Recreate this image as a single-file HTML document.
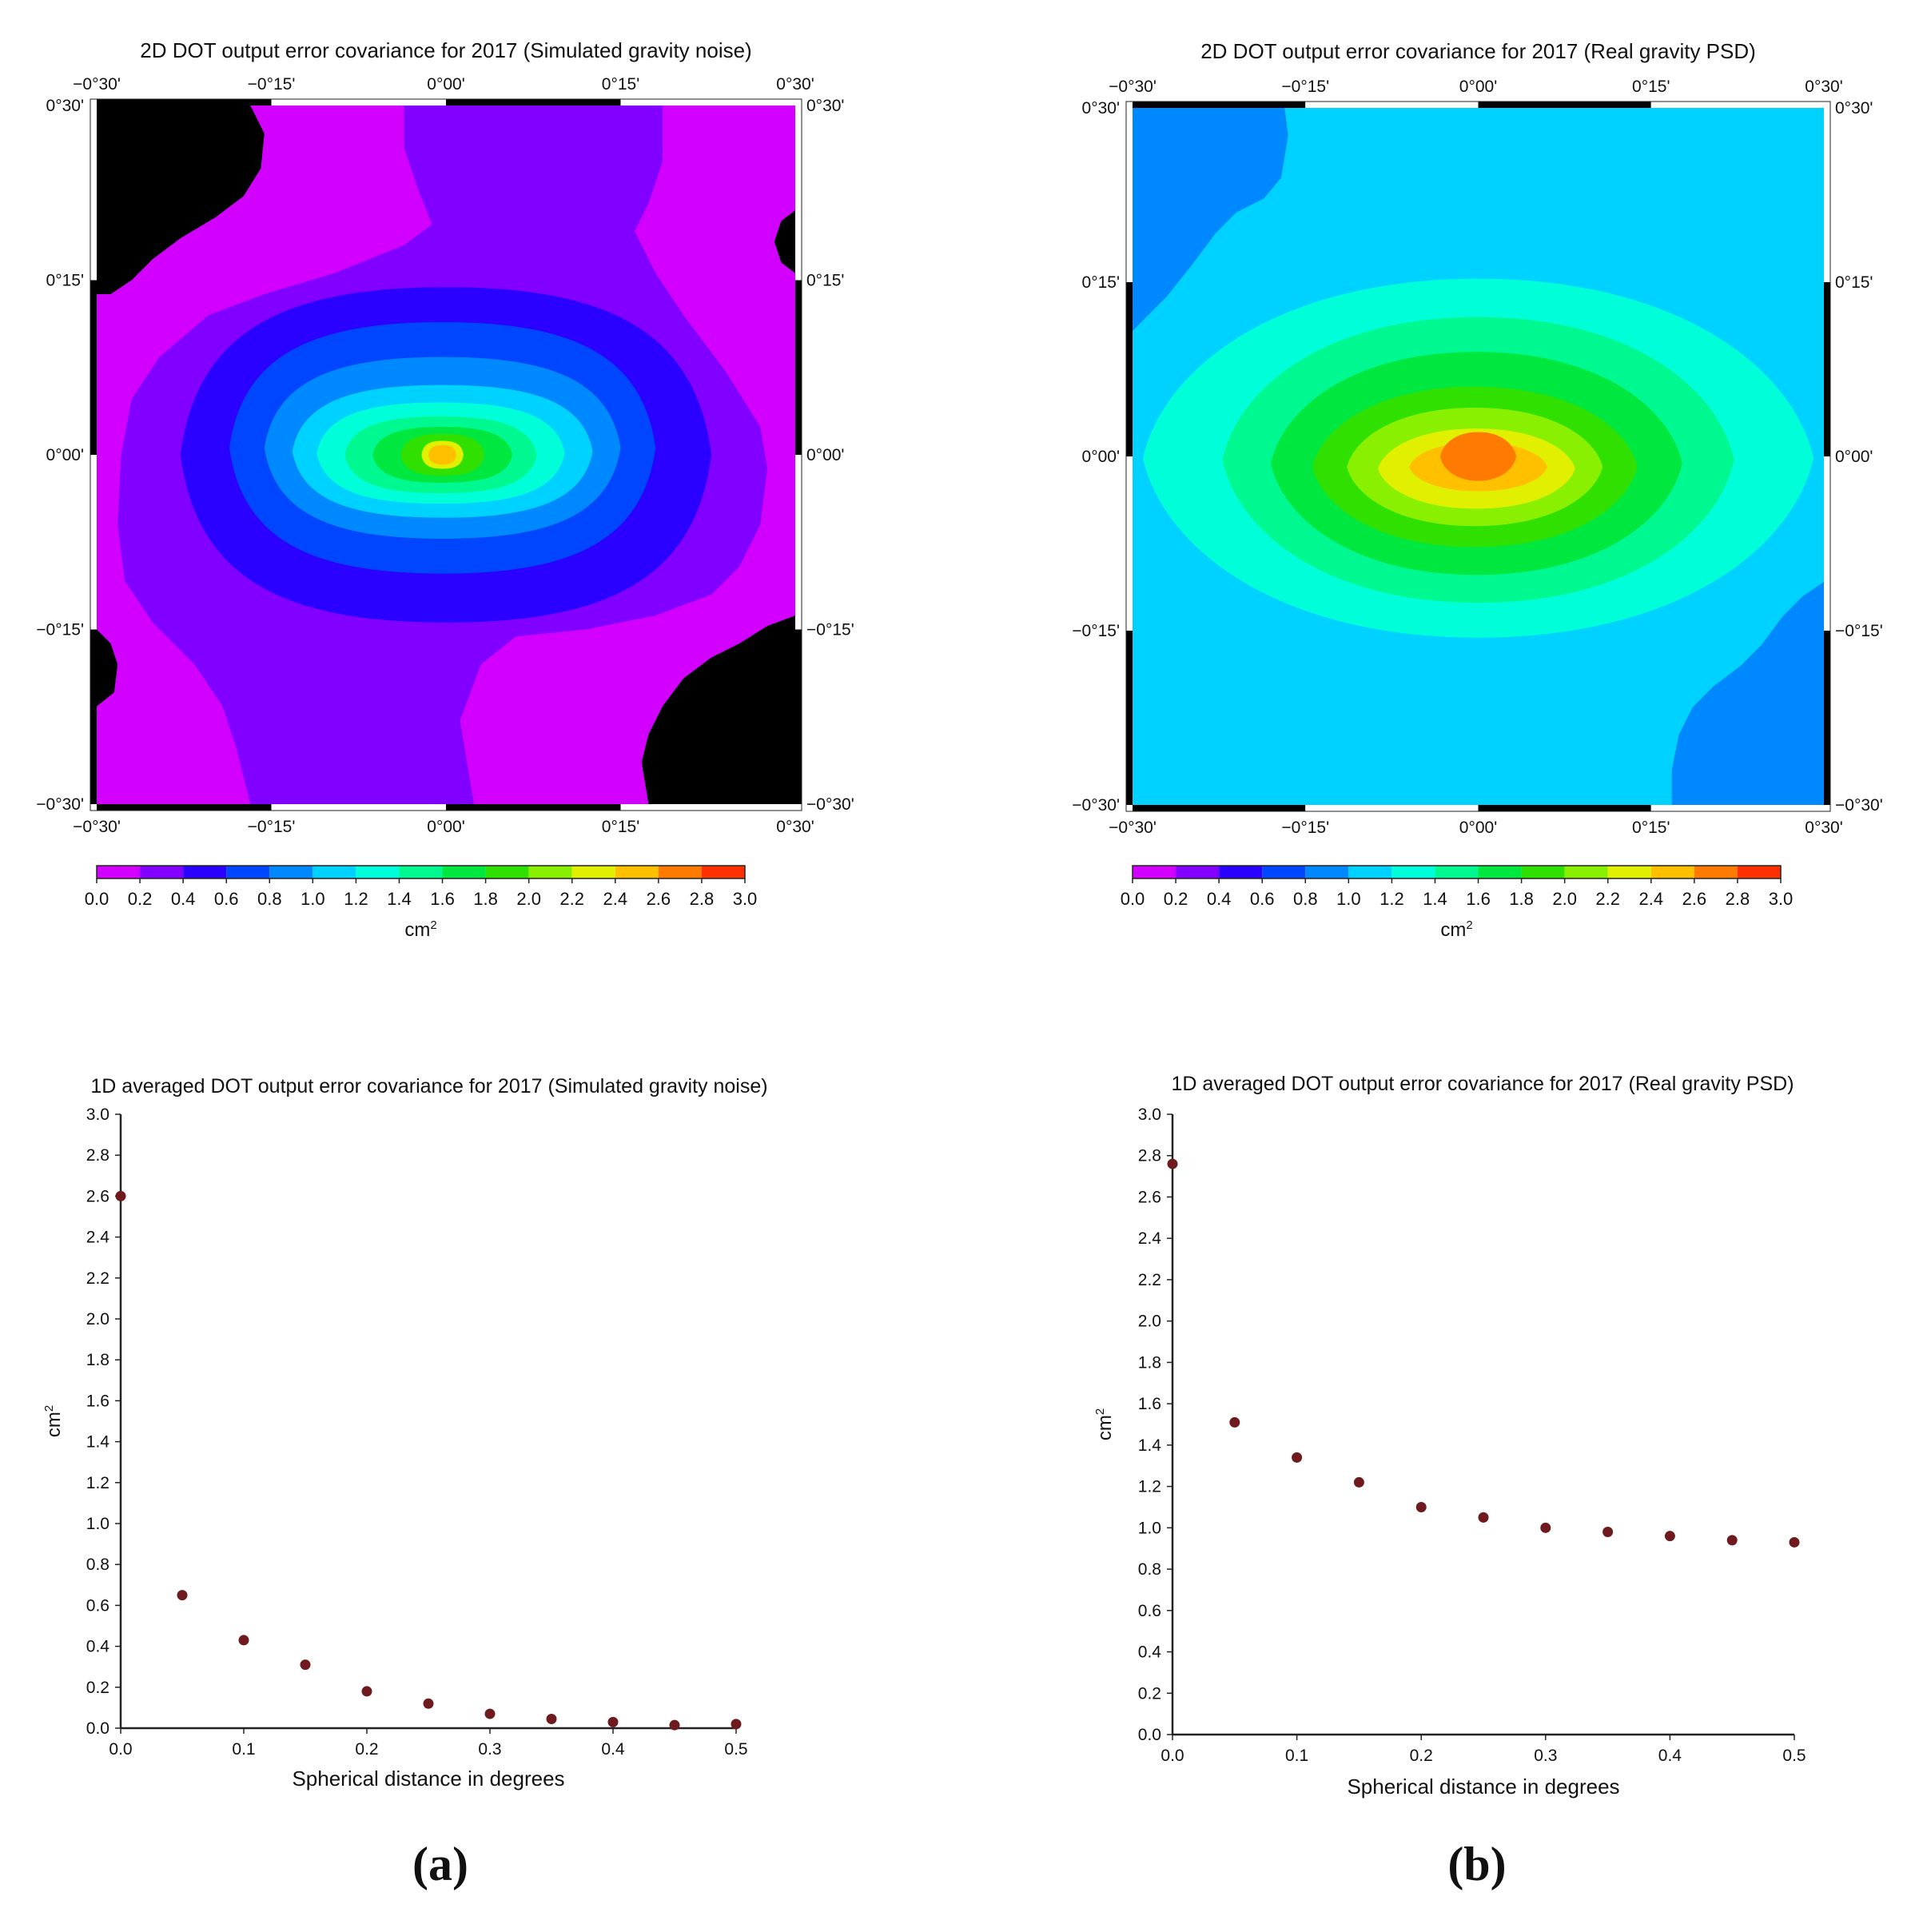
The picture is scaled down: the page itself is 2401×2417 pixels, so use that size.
<!DOCTYPE html>
<html><head><meta charset="utf-8">
<style>
html,body{margin:0;padding:0;background:#fff;}
svg{display:block;font-family:"Liberation Sans",sans-serif;}
</style></head>
<body>
<svg id="fig" width="2401" height="2417" viewBox="0 0 2401 2417" xmlns="http://www.w3.org/2000/svg"></svg>
<script>
// ---- data ----
const cbLevels = [0.0,0.2,0.4,0.6,0.8,1.0,1.2,1.4,1.6,1.8,2.0,2.2,2.4,2.6,2.8,3.0];
const cbColors = ["#d200ff","#8200ff","#2a00ff","#0046ff","#0088ff","#00d2ff","#00ffd8","#00f890","#00e840","#30e000","#88f000","#e0f000","#ffc000","#ff7a00","#ff3000"];
const distX = [0,0.05,0.1,0.15,0.2,0.25,0.3,0.35,0.4,0.45,0.5];
const covSim = [2.60,0.65,0.43,0.31,0.18,0.12,0.07,0.045,0.03,0.015,0.02];
const covReal = [2.76,1.51,1.34,1.22,1.10,1.05,1.00,0.98,0.96,0.94,0.93];
const yTicks = [0.0,0.2,0.4,0.6,0.8,1.0,1.2,1.4,1.6,1.8,2.0,2.2,2.4,2.6,2.8,3.0];
const xTicks = [0.0,0.1,0.2,0.3,0.4,0.5];
const mapTopLabels = ["\u22120\u00b030'","\u22120\u00b015'","0\u00b000'","0\u00b015'","0\u00b030'"];
const mapSideLabels = ["0\u00b030'","0\u00b015'","0\u00b000'","\u22120\u00b015'","\u22120\u00b030'"];

const NS="http://www.w3.org/2000/svg";
const svg=document.getElementById('fig');
function mk(tag,attrs,parent){const e=document.createElementNS(NS,tag);for(const k in attrs)e.setAttribute(k,attrs[k]);(parent||svg).appendChild(e);return e;}
function txt(x,y,s,size,anchor,parent,extra){const t=mk('text',Object.assign({x:x,y:y,'font-size':size,'text-anchor':anchor||'middle',fill:'#111'},extra||{}),parent);t.textContent=s;return t;}
function lens(l,r,t,b,k){const cx=(l+r)/2,cy=(t+b)/2,W=r-l,H1=cy-t,H2=b-cy;
  return `M${l},${cy} C${l+0.03*W},${cy-k*H1} ${cx-0.3*W},${t} ${cx},${t} C${cx+0.3*W},${t} ${r-0.03*W},${cy-k*H1} ${r},${cy} C${r-0.03*W},${cy+k*H2} ${cx+0.3*W},${b} ${cx},${b} C${cx-0.3*W},${b} ${l+0.03*W},${cy+k*H2} ${l},${cy} Z`;}

function drawMap(name,X0,Y0,W,H,title,titleY,bgColor,shapes,k){
  const g=mk('g',{});
  
  
  const t=txt(X0+W/2,titleY,title,26,'middle',g);
  
  const inner=mk('g',{transform:`translate(${X0},${Y0}) scale(${W/100},${H/100})`},g);
  mk('rect',{x:0,y:0,width:100,height:100,fill:bgColor},inner);
  shapes.forEach(s=>{
    let e;
    if(s.poly) e=mk('polygon',{points:s.poly.map(p=>p.join(',')).join(' '),fill:s.c,'stroke-linejoin':'round'},inner);
    else e=mk('path',{d:lens(s.l,s.r,s.t,s.b,k),fill:s.c},inner);
    
  });
  const bw=8;
  for(let i=0;i<4;i++){
    const fillTB = i%2===0?'#000':'#fff';
    const fillLR = i%2===1?'#000':'#fff';
    mk('rect',{x:X0+i*W/4,y:Y0-bw,width:W/4,height:bw,fill:fillTB},g);
    mk('rect',{x:X0+i*W/4,y:Y0+H,width:W/4,height:bw,fill:fillTB},g);
    mk('rect',{x:X0-bw,y:Y0+i*H/4,width:bw,height:H/4,fill:fillLR},g);
    mk('rect',{x:X0+W,y:Y0+i*H/4,width:bw,height:H/4,fill:fillLR},g);
  }
  mk('rect',{x:X0-bw,y:Y0-bw,width:W+2*bw,height:H+2*bw,fill:'none',stroke:'#222','stroke-width':1},g);
  for(let i=0;i<5;i++){
    const x=X0+i*W/4,y=Y0+i*H/4;
    let e=txt(x,Y0-20,mapTopLabels[i],21,'middle',g);
    e=txt(x,Y0+H+35,mapTopLabels[i],21,'middle',g);
    e=txt(X0-16,y+7,mapSideLabels[i],21,'end',g);
    e=txt(X0+W+14,y+7,mapSideLabels[i],21,'start',g);
  }
}

function drawColorbar(name,X0,Y0,W){
  const g=mk('g',{});
  
  const n=cbColors.length,sw=W/n;
  cbColors.forEach((c,i)=>{const r=mk('rect',{x:X0+i*sw,y:Y0,width:sw,height:16,fill:c},g);});
  mk('rect',{x:X0,y:Y0,width:W,height:16,fill:'none',stroke:'#222','stroke-width':1.5},g);
  cbLevels.forEach((v,i)=>{
    mk('line',{x1:X0+i*sw,y1:Y0+16,x2:X0+i*sw,y2:Y0+22,stroke:'#222','stroke-width':1.5},g);
    const e=txt(X0+i*sw,Y0+49,v.toFixed(1),22,'middle',g);
  });
  const u=txt(X0+W/2,Y0+88,'cm',24,'middle',g);
  const sp=mk('tspan',{dy:-9,'font-size':15},u);sp.textContent='2';
  
}

function drawScatter(name,X0,X1,Y0,Y1,title,titleY,titleX,vals,xlabY,ylabX){
  const g=mk('g',{});
  
  const sx=v=>X0+(v-0)/(0.5)*(X1-X0);
  const sy=v=>Y0-(v/3.0)*(Y0-Y1);
  let t=txt(titleX,titleY,title,25,'middle',g);
  mk('line',{x1:X0,y1:Y1,x2:X0,y2:Y0,stroke:'#222','stroke-width':2.5},g);
  mk('line',{x1:X0,y1:Y0,x2:X1,y2:Y0,stroke:'#222','stroke-width':2.5},g);
  yTicks.forEach(v=>{
    mk('line',{x1:X0-7,y1:sy(v),x2:X0,y2:sy(v),stroke:'#222','stroke-width':1.5},g);
    const e=txt(X0-14,sy(v)+7,v.toFixed(1),21,'end',g);
  });
  xTicks.forEach(v=>{
    mk('line',{x1:sx(v),y1:Y0,x2:sx(v),y2:Y0+7,stroke:'#222','stroke-width':1.5},g);
    const e=txt(sx(v),Y0+33,v.toFixed(1),21,'middle',g);
  });
  let xl=txt((X0+X1)/2,xlabY,'Spherical distance in degrees',26,'middle',g);
  const cy=(Y0+Y1)/2;
  let yl=txt(ylabX,cy,'cm',24,'middle',g,{transform:`rotate(-90 ${ylabX} ${cy})`});
  const sp=mk('tspan',{dy:-9,'font-size':15},yl);sp.textContent='2';
  
  distX.forEach((d,i)=>{
    const c=mk('circle',{cx:sx(d),cy:sy(vals[i]),r:6.5,fill:'#6e1a1e'},g);
    
    
  });
}

drawMap('map-simulated',121,132,874,874,'2D DOT output error covariance for 2017 (Simulated gravity noise)',72,'#d200ff',[
  {poly:[[44,0],[81,0],[81,8],[79,14],[77,18],[80,24],[84,30],[90,38],[95,46],[96,52],[95,60],[92,66],[88,70],[80,73],[70,75],[60,76],[55,80],[52,88],[54,100],[22,100],[20,92],[18,86],[14,80],[8,74],[4,68],[3,60],[3.5,50],[5,42],[9,36],[16,30],[24,27],[34,24],[44,20],[48,17],[46,12],[44,6]],c:'#8200ff'},
  {poly:[[0,0],[22,0],[24,4],[23.5,9],[21,13],[17,16],[12,19],[8,22],[5,25],[2,27],[0,27]],c:'#000'},
  {poly:[[100,15],[98,16.5],[97,19.5],[98,22.5],[100,24]],c:'#000'},
  {poly:[[100,73],[96,74.5],[92,77],[88,79],[84,82],[81,86],[79,90],[78,94],[79,100],[100,100]],c:'#000'},
  {poly:[[0,75],[2,77],[3,80],[2.5,84],[0,86]],c:'#000'},
  {l:12,r:88,t:26,b:74,c:'#2a00ff'},
  {l:19,r:80,t:31,b:67,c:'#0046ff'},
  {l:24,r:75,t:36,b:62,c:'#0088ff'},
  {l:28,r:71,t:40,b:59,c:'#00d2ff'},
  {l:31.5,r:67,t:42.5,b:57,c:'#00ffd8'},
  {l:35.5,r:63,t:44.5,b:55.5,c:'#00f890'},
  {l:39.5,r:59.5,t:46,b:54,c:'#00e840'},
  {l:43.5,r:55.5,t:47,b:53,c:'#30e000'},
  {l:46.5,r:52.5,t:48,b:52,c:'#e0f000'},
  {l:47.5,r:51.5,t:48.6,b:51.4,c:'#ffc000'}
],0.75);
drawColorbar('colorbar-simulated',121,1083,811);

drawMap('map-real',1417,135,865,872,'2D DOT output error covariance for 2017 (Real gravity PSD)',73,'#00d2ff',[
  {poly:[[0,0],[22,0],[22.5,4],[21.5,10],[19,13],[15,15],[12,18],[9,22],[5,27],[2,30],[0,32]],c:'#0088ff'},
  {poly:[[100,68],[97,70],[94,73],[91,77],[88,80],[84,83],[81,86],[79,90],[78,95],[78,100],[100,100]],c:'#0088ff'},
  {l:1.5,r:98.5,t:24.5,b:76,c:'#00ffd8'},
  {l:13,r:87,t:30,b:71,c:'#00f890'},
  {l:20,r:79.5,t:35,b:67,c:'#00e840'},
  {l:26,r:73,t:40,b:63,c:'#30e000'},
  {l:31,r:68,t:43,b:60,c:'#88f000'},
  {l:35.5,r:64,t:46,b:57.5,c:'#e0f000'},
  {l:40,r:60,t:48,b:55,c:'#ffc000'},
  {l:44.5,r:55.5,t:46.5,b:53.5,c:'#ff7a00'}
],0.5);
drawColorbar('colorbar-real',1417,1083,811);

drawScatter('scatter-simulated',151,921,2162,1394,'1D averaged DOT output error covariance for 2017 (Simulated gravity noise)',1367,537,covSim,2234,75);
drawScatter('scatter-real',1467,2245,2170,1394,'1D averaged DOT output error covariance for 2017 (Real gravity PSD)',1364,1855,covReal,2244,1390);

let la=txt(551,2352,'(a)',60,'middle',svg,{'font-family':'"Liberation Serif",serif','font-weight':'bold'});

let lb=txt(1848,2352,'(b)',60,'middle',svg,{'font-family':'"Liberation Serif",serif','font-weight':'bold'});

</script>
</body></html>
